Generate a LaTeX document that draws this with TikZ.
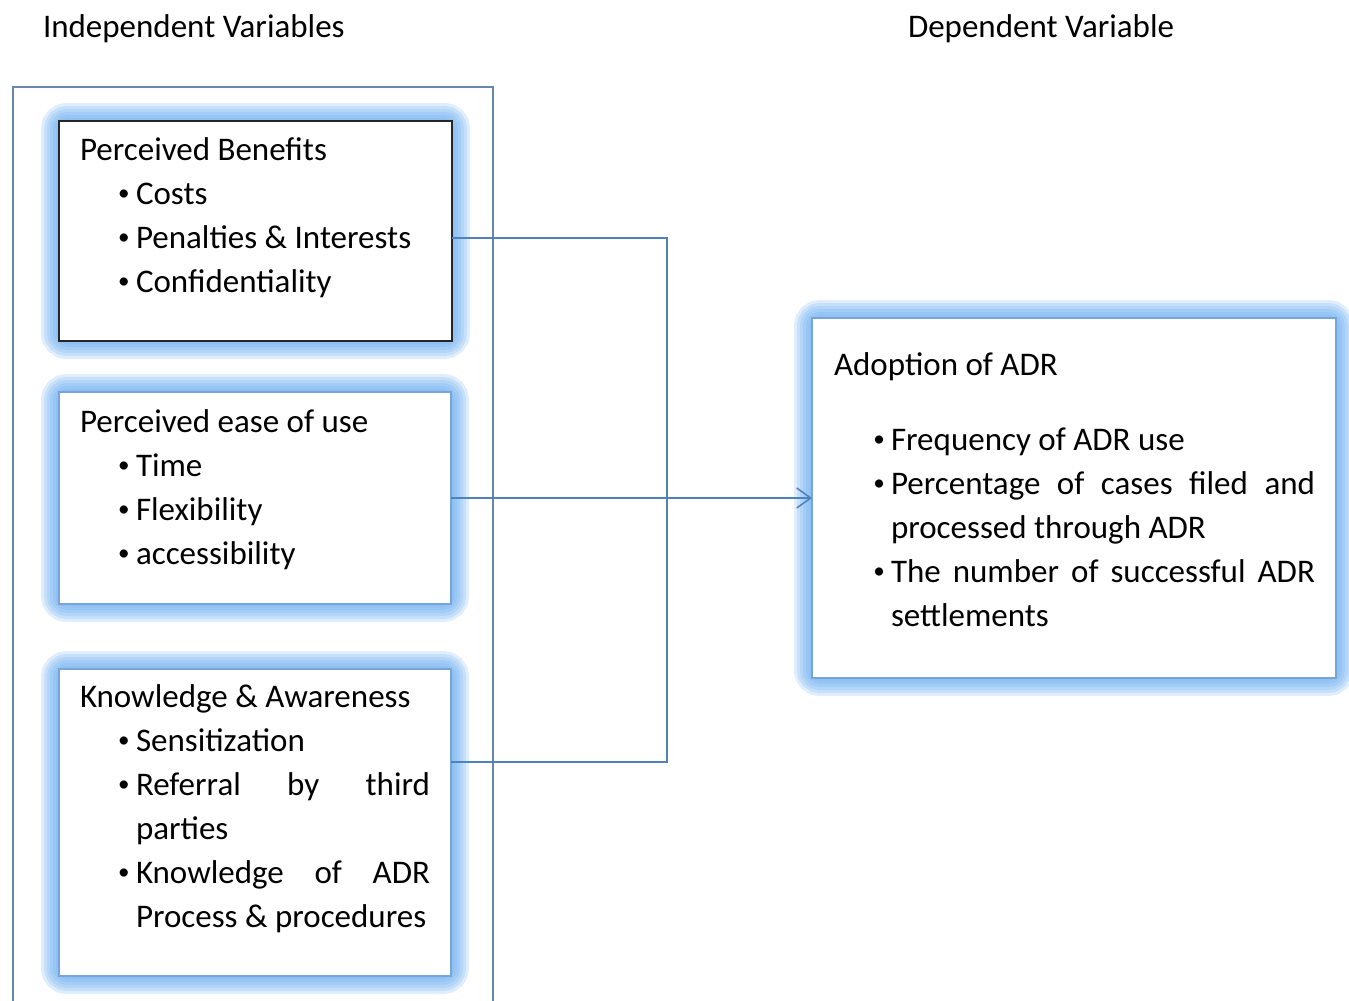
\documentclass[tikz,border=0pt]{standalone}
\usepackage{fontspec}
\setmainfont{Carlito}
\usetikzlibrary{arrows.meta,backgrounds}

\definecolor{glowblue}{RGB}{110,175,240}
\definecolor{linkblue}{RGB}{79,129,189}
\definecolor{frameblue}{RGB}{105,135,170}
\definecolor{boxedge}{RGB}{120,165,215}

\tikzset{
  box/.style={draw=boxedge, line width=1.5pt, fill=white, inner sep=0pt, outer sep=0pt},
  darkbox/.style={box, draw=black!85, line width=2.5pt},
  glow/.style={draw=glowblue, opacity=0.22, rounded corners=8pt},
  txt/.style={anchor=base west, inner sep=0pt, outer sep=0pt},
  link/.style={draw=linkblue, line width=1.5pt},
  frame/.style={draw=frameblue, line width=1.5pt},
}
% small list bullet in a fixed-width slot
\newcommand{\bx}{\makebox[24pt][c]{\raisebox{3.5pt}{\scalebox{0.7}{\textbullet}}}}
\newcommand{\glowaround}[1]{%
  \begin{scope}[on background layer]
    \foreach \w in {36,30,24,18,12,6}
      \draw[glow, line width=\w pt] (#1.north west) rectangle (#1.south east);
  \end{scope}}

\begin{document}
\begin{tikzpicture}[x=1pt, y=-1pt, font=\fontsize{33}{44}\selectfont]
  \useasboundingbox (0,0) rectangle (1349,1001);

  % column headings
  \node[txt] (hind) at (43,37) {Independent Variables};
  \node[txt] (hdep) at (908,37) {Dependent Variable};

  % frame around the independent variables
  \draw[frame] (13,1001) -- (13,87) -- (493,87) -- (493,1001);

  % boxes
  \node[darkbox, minimum width=393, minimum height=220] (pb) at (255.5,231) {};
  \node[box, minimum width=392, minimum height=212] (pe) at (255,498) {};
  \node[box, minimum width=392, minimum height=307] (ka) at (255,822.5) {};
  \node[box, minimum width=524, minimum height=360] (adr) at (1074,498) {};
  \glowaround{pb}
  \glowaround{pe}
  \glowaround{ka}
  \glowaround{adr}

  % Perceived Benefits
  \node[txt] (pb0) at (80,160) {Perceived Benefits};
  \node[txt] (pb1) at (112,204) {\bx Costs};
  \node[txt] (pb2) at (112,248) {\bx Penalties \& Interests};
  \node[txt] (pb3) at (112,292) {\bx Confidentiality};

  % Perceived ease of use
  \node[txt] (pe0) at (80,432) {Perceived ease of use};
  \node[txt] (pe1) at (112,476) {\bx Time};
  \node[txt] (pe2) at (112,520) {\bx Flexibility};
  \node[txt] (pe3) at (112,564) {\bx accessibility};

  % Knowledge & Awareness
  \node[txt] (ka0) at (80,707) {Knowledge \& Awareness};
  \node[txt] (ka1) at (112,751) {\bx Sensitization};
  \node[txt] (ka2) at (112,795) {\bx\hbox to 294pt{Referral\hfill by\hfill third}};
  \node[txt] (ka3) at (136,839) {parties};
  \node[txt] (ka4) at (112,883) {\bx\hbox to 294pt{Knowledge\hfill of\hfill ADR}};
  \node[txt] (ka5) at (136,927) {Process \& procedures};

  % Adoption of ADR
  \node[txt] (ad0) at (834,375) {Adoption of ADR};
  \node[txt] (ad1) at (867,450) {\bx Frequency of ADR use};
  \node[txt] (ad2) at (867,494) {\bx\hbox to 424pt{Percentage\hfill of\hfill cases\hfill filed\hfill and}};
  \node[txt] (ad3) at (891,538) {processed through ADR};
  \node[txt] (ad4) at (867,582) {\bx\hbox to 424pt{The\hfill number\hfill of\hfill successful\hfill ADR}};
  \node[txt] (ad5) at (891,626) {settlements};

  % connectors
  \coordinate (jt) at (667,238);
  \coordinate (jb) at (667,762);
  \draw[link] ([yshift=-7pt]pb.east) -- (jt) -- (jb) -- ([yshift=60.5pt]ka.east);
  \draw[link, -{Straight Barb[length=14pt, width=20pt, line width=1.5pt]}] (pe.east) -- (adr.west);
\end{tikzpicture}
\end{document}
